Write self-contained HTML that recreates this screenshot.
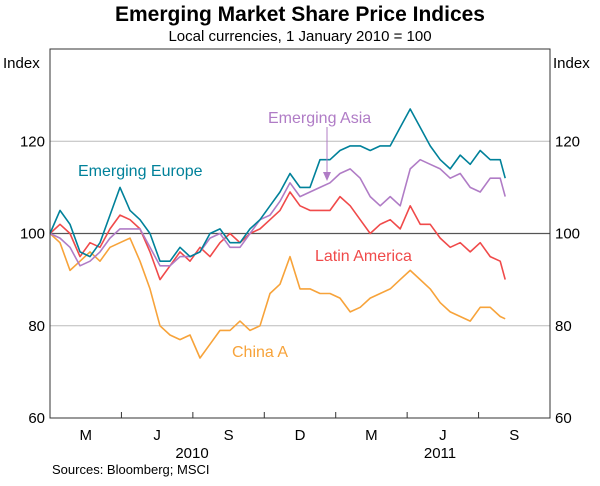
<!DOCTYPE html>
<html><head><meta charset="utf-8"><style>
body{margin:0;background:#fff;font-family:"Liberation Sans",Arial,sans-serif;}
svg text{font-family:"Liberation Sans",Arial,sans-serif;}
</style></head><body>
<svg id="chart" width="600" height="481" viewBox="0 0 600 481" xmlns="http://www.w3.org/2000/svg">
<text x="300" y="21" text-anchor="middle" font-size="21" font-weight="bold">Emerging Market Share Price Indices</text>
<text x="300" y="41" text-anchor="middle" font-size="15">Local currencies, 1 January 2010 = 100</text>
<text x="3" y="68" font-size="15">Index</text>
<text x="553" y="68" font-size="15">Index</text>
<g id="grid"></g>
<g id="series"></g>
<rect x="50" y="49" width="500" height="369" fill="none" stroke="#333" stroke-width="1"/>
<g id="axes"></g>
<text x="78" y="176" font-size="16" fill="#00819a">Emerging Europe</text>
<text x="268" y="123" font-size="16" fill="#b07cc6">Emerging Asia</text>
<line x1="327" y1="127" x2="327" y2="176" stroke="#b07cc6" stroke-width="1"/>
<polygon points="323,172 331,172 327,181" fill="#b07cc6"/>
<text x="315" y="261" font-size="16" fill="#f04a4a">Latin America</text>
<text x="232" y="357" font-size="16" fill="#f7a33a">China A</text>
<text x="192" y="458" text-anchor="middle" font-size="15">2010</text>
<text x="440" y="458" text-anchor="middle" font-size="15">2011</text>
<text x="52" y="474" font-size="13">Sources: Bloomberg; MSCI</text>
</svg>
<script>
// months since 1 Jan 2010
const months = [0,0.42,0.84,1.26,1.68,2.1,2.52,2.94,3.36,3.78,4.2,4.62,5.04,5.46,5.88,6.3,6.72,7.14,7.56,7.98,8.4,8.82,9.24,9.66,10.08,10.5,10.92,11.34,11.76,12.18,12.61,13.03,13.45,13.87,14.29,14.71,15.13,15.55,15.97,16.39,16.81,17.23,17.65,18.07,18.49,18.91,19.12];
const europe = [100,105,102,96,95,98,104,110,105,103,100,94,94,97,95,96,100,101,98,98,101,103,106,109,113,110,110,116,116,118,119,119,118,119,119,123,127,123,119,116,114,117,115,118,116,116,112];
const asia = [100,99,97,93,94,96,99,101,101,101,97,93,93,95,95,96,99,100,97,97,100,103,104,107,111,108,109,110,111,113,114,112,108,106,108,106,114,116,115,114,112,113,110,109,112,112,108];
const latam = [100,102,100,95,98,97,101,104,103,101,96,90,93,96,94,97,95,98,100,98,100,101,103,105,109,106,105,105,105,108,106,103,100,102,103,101,106,102,102,99,97,98,96,98,95,94,90];
const chinaA = [100,98,92,94,96,94,97,98,99,94,88,80,78,77,78,73,76,79,79,81,79,80,87,89,95,88,88,87,87,86,83,84,86,87,88,90,92,90,88,85,83,82,81,84,84,82,81.5];
const yTicks = [60,80,100,120];
const xLabels = ["M","J","S","D","M","J","S"];

const NS="http://www.w3.org/2000/svg";
const X0=50,X1=550,Y0=418,Y1=49;
const xs=m=>X0+m*(X1-X0)/21;
const ys=v=>Y0-(v-60)*(Y0-Y1)/80;
const grid=document.getElementById('grid'),axes=document.getElementById('axes'),ser=document.getElementById('series');
yTicks.forEach(v=>{
  if(v>60){const l=document.createElementNS(NS,'line');
  
  
  l.setAttribute('x1',X0);l.setAttribute('x2',X1);l.setAttribute('y1',ys(v));l.setAttribute('y2',ys(v));
  l.setAttribute('stroke',v===100?'#555':'#bbb');l.setAttribute('stroke-width',v===100?1.3:1);grid.appendChild(l);}
  [[45,'end','left'],[555,'start','right']].forEach(([x,a,s])=>{
    const t=document.createElementNS(NS,'text');
    
    
    t.setAttribute('x',x);t.setAttribute('y',ys(v)+5);t.setAttribute('text-anchor',a);t.setAttribute('font-size','15');
    t.textContent=v;axes.appendChild(t);});
});
for(let q=1;q<7;q++){const l=document.createElementNS(NS,'line');
  
  
  l.setAttribute('x1',xs(q*3));l.setAttribute('x2',xs(q*3));l.setAttribute('y1',Y0);l.setAttribute('y2',Y0-6);l.setAttribute('stroke','#333');axes.appendChild(l);}
xLabels.forEach((s,i)=>{const t=document.createElementNS(NS,'text');
  
  
  t.setAttribute('x',xs(i*3+1.5));t.setAttribute('y',440);t.setAttribute('text-anchor','middle');t.setAttribute('font-size','15');
  t.textContent=s;axes.appendChild(t);});
[[chinaA,'#f7a33a','china-a'],[latam,'#f04a4a','latin-america'],[asia,'#b07cc6','emerging-asia'],[europe,'#00819a','emerging-europe']].forEach(([d,c,n])=>{
  const p=document.createElementNS(NS,'polyline');
  
  
  p.setAttribute('points',d.map((v,i)=>xs(months[i]).toFixed(1)+','+ys(v).toFixed(1)).join(' '));
  p.setAttribute('fill','none');p.setAttribute('stroke',c);p.setAttribute('stroke-width','1.6');p.setAttribute('stroke-linejoin','round');
  ser.appendChild(p);});
</script>
</body></html>
